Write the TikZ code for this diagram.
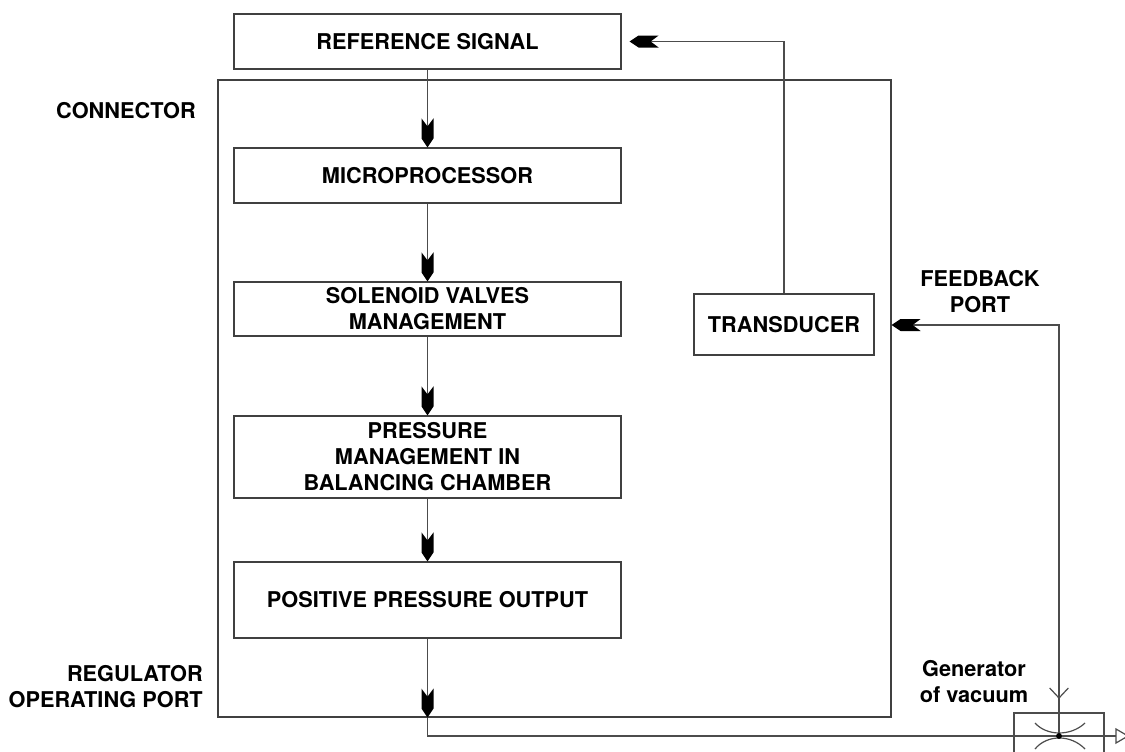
\documentclass[tikz,border=0pt]{standalone}
\usepackage{fontspec}
\setmainfont{TeX Gyre Heros}
\usetikzlibrary{arrows.meta}
\pgfdeclarearrow{
  name = Dart,
  setup code = {
    \pgfarrowssettipend{0pt}
    \pgfarrowssetlineend{-12pt}
    \pgfarrowssetvisualbackend{-15.75pt}
    \pgfarrowssetbackend{-21.75pt}
    \pgfarrowshullpoint{0pt}{0pt}
    \pgfarrowshullpoint{-21.75pt}{4.5pt}
    \pgfarrowshullpoint{-21.75pt}{-4.5pt}
  },
  drawing code = {
    \pgfsetfillcolor{black}
    \pgfpathmoveto{\pgfpointorigin}
    \pgfpathlineto{\pgfpoint{-6.75pt}{4.5pt}}
    \pgfpathlineto{\pgfpoint{-21.75pt}{4.5pt}}
    \pgfpathlineto{\pgfpoint{-15.75pt}{0pt}}
    \pgfpathlineto{\pgfpoint{-21.75pt}{-4.5pt}}
    \pgfpathlineto{\pgfpoint{-6.75pt}{-4.5pt}}
    \pgfpathclose
    \pgfusepathqfill
  }
}
\tikzset{
  lbl/.style={font=\fontsize{16.3}{19.5}\selectfont\bfseries, align=center, inner sep=0pt},
  blockbox/.style={draw=black!75, line width=0.9pt, lbl, minimum width=290.25pt},
  wire/.style={draw=black!70, line width=0.9pt},
  flow/.style={wire, -{Dart}},
}
\begin{document}
\begin{tikzpicture}[x=0.75pt, y=-0.75pt]
\useasboundingbox (0,0) rectangle (1125,751);
\clip (0,0) rectangle (1125,751);
% big enclosure
\node[draw=black!75, line width=0.9pt, minimum width=504.75pt, minimum height=477.75pt, inner sep=0pt] (big) at (554.5,398.5) {};
% blocks
\node[blockbox, minimum height=41.25pt] (ref) at (427.5,41.5) {REFERENCE SIGNAL};
\node[blockbox, minimum height=41.25pt] (micro) at (427.5,175.5) {MICROPROCESSOR};
\node[blockbox, minimum height=40.5pt] (sol) at (427.5,309) {SOLENOID VALVES\\MANAGEMENT};
\node[blockbox, minimum height=61.5pt] (press) at (427.5,457) {PRESSURE\\MANAGEMENT IN\\BALANCING CHAMBER};
\node[blockbox, minimum height=57pt] (pos) at (427.5,600) {POSITIVE PRESSURE OUTPUT};
\node[draw=black!75, line width=0.9pt, lbl, minimum width=135pt, minimum height=45.75pt] (trans) at (784,324.5) {TRANSDUCER};
% labels
\node[lbl, anchor=east] (conn) at (196,111) {CONNECTOR};
\node[lbl, anchor=east, align=right] (reg) at (203,687) {REGULATOR\\OPERATING PORT};
\node[lbl] (fbp) at (980,292) {FEEDBACK\\PORT};
\node[lbl] (gvl) at (974,682) {Generator\\of vacuum};
% coordinates
\coordinate (corner) at (1059,325);
\coordinate (gc) at (1059,736);
\coordinate (bl) at (427.5,736);
\coordinate (vt) at (1059,698);
% flow arrows
\draw[flow] (ref.south) -- (micro.north);
\draw[flow] (micro.south) -- (sol.north);
\draw[flow] (sol.south) -- (press.north);
\draw[flow] (press.south) -- (pos.north);
\draw[flow] (pos.south) -- (pos.south |- big.south);
\draw[wire] (pos.south |- big.south) -- (bl) -- (1116,736);
\draw[flow] (trans.north) |- ([xshift=6pt]ref.east);
\draw[flow] (gc) -- (corner) -- (big.east |- corner);
% open V mark on feedback line
\draw[wire] ([xshift=-7pt,yshift=7.5pt]vt) -- (vt) -- ([xshift=7pt,yshift=7.5pt]vt);
% vacuum generator symbol
\draw[wire] (1014,780) -- (1014,713) -- (1104,713) -- (1104,780);
\draw[wire] (1035,723) .. controls (1047,736.3) and (1071,736.3) .. (1085,723);
\draw[wire] (1035,749) .. controls (1047,734.3) and (1071,734.3) .. (1085,749);
\fill[black] (gc) circle (2.2pt);
\draw[wire, fill=white] (1116,729) -- (1128,736) -- (1116,743) -- cycle;
\end{tikzpicture}
\end{document}
